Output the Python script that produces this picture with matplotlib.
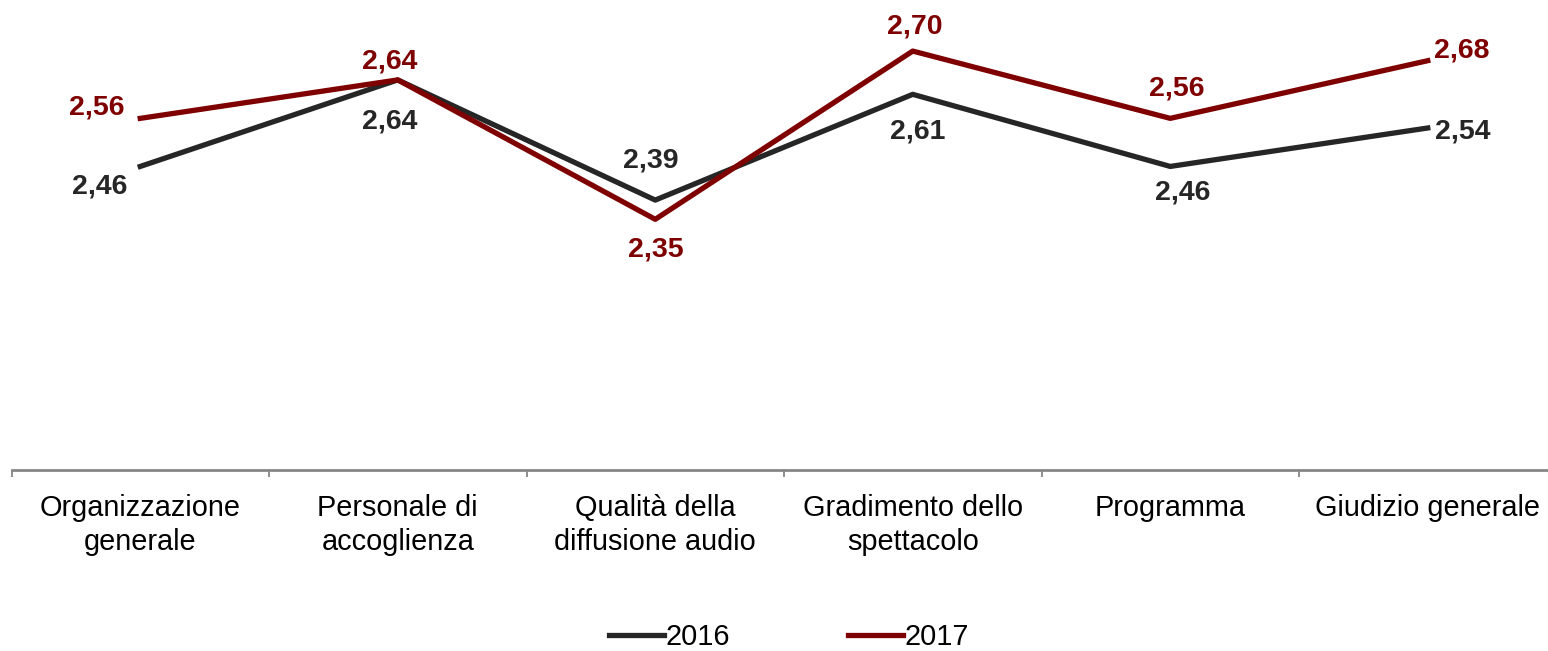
import matplotlib.pyplot as plt
import numpy as np

plt.rcParams["font.family"] = ["Liberation Sans", "DejaVu Sans"]

categories = ["Organizzazione\ngenerale", "Personale di\naccoglienza",
              "Qualità della\ndiffusione audio", "Gradimento dello\nspettacolo",
              "Programma", "Giudizio generale"]
values_2016 = [2.46, 2.64, 2.39, 2.61, 2.46, 2.54]
values_2017 = [2.56, 2.64, 2.35, 2.70, 2.56, 2.68]

color_2016 = "#262626"
color_2017 = "#7f0000"

# label offsets in pixels (dx, dy)
offsets_2016 = [(-41, -20), (-8, -42), (-5, 40), (5, -37), (12, -26), (35, -4)]
offsets_2017 = [(-43, 11), (-8, 18), (1, -30), (2, 25), (7, 30), (34, 10)]

fig = plt.figure(figsize=(15.48, 6.51), dpi=100)
ax = fig.add_axes([11.5 / 1548, 1 - 470 / 651, 1545 / 1548, 467 / 651])

x = np.arange(len(categories))
ax.plot(x, values_2016, color=color_2016, lw=3.8, label="2016")
ax.plot(x, values_2017, color=color_2017, lw=3.8, label="2017")

for xi, v, off in zip(x, values_2016, offsets_2016):
    ax.annotate(f"{v:.2f}".replace(".", ","), (xi, v), xytext=off, textcoords="offset pixels",
                ha="center", va="center", fontsize=20.5, fontweight="bold", color=color_2016)
for xi, v, off in zip(x, values_2017, offsets_2017):
    ax.annotate(f"{v:.2f}".replace(".", ","), (xi, v), xytext=off, textcoords="offset pixels",
                ha="center", va="center", fontsize=20.5, fontweight="bold", color=color_2017)

ax.set_xlim(-0.5, len(categories) - 0.5)
ax.set_ylim(1.8285, 2.80)

ax.set_xticks(np.arange(len(categories) + 1) - 0.5)
ax.set_xticklabels([])
ax.set_xticks(x, minor=True)
ax.set_xticklabels(categories, minor=True, fontsize=20.8)
for lab in ax.get_xticklabels(minor=True):
    lab.set_linespacing(1.3)
ax.tick_params(axis="x", which="major", length=5, width=1.3, color="#868686")
ax.tick_params(axis="x", which="minor", length=0, pad=17)
ax.set_yticks([])

for side in ["top", "right", "left"]:
    ax.spines[side].set_visible(False)
ax.spines["bottom"].set_color("#868686")
ax.spines["bottom"].set_linewidth(2)

fig.legend(loc="center", bbox_to_anchor=(789 / 1548, 1 - 637 / 651), ncol=2, frameon=False,
           fontsize=20.8, handlelength=1.9, handletextpad=0.05, columnspacing=4.1)

fig.savefig("out.png", dpi=100)
